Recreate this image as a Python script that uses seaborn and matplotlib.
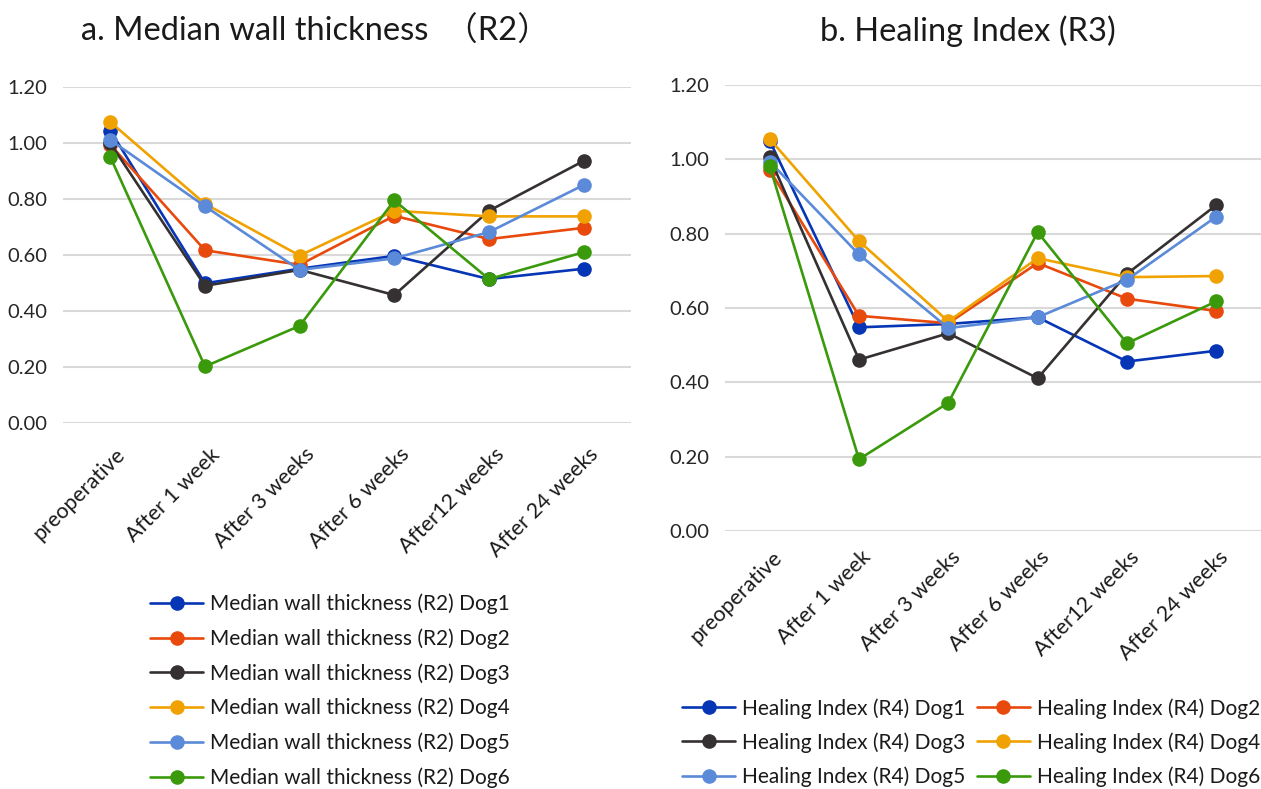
import numpy as np
import pandas as pd
import seaborn as sns
import matplotlib
matplotlib.use("Agg")
import matplotlib.pyplot as plt
from matplotlib.transforms import ScaledTranslation, blended_transform_factory
from matplotlib.lines import Line2D

# ---- data ----
categories = ["preoperative", "After 1 week", "After 3 weeks", "After 6 weeks",
              "After12 weeks", "After 24 weeks"]
dogs = ["Dog1", "Dog2", "Dog3", "Dog4", "Dog5", "Dog6"]

wall_dog1 = [1.045, 0.500, 0.552, 0.598, 0.515, 0.552]
wall_dog2 = [0.995, 0.618, 0.566, 0.741, 0.658, 0.698]
wall_dog3 = [1.000, 0.491, 0.548, 0.458, 0.759, 0.937]
wall_dog4 = [1.076, 0.784, 0.599, 0.759, 0.739, 0.739]
wall_dog5 = [1.012, 0.775, 0.548, 0.589, 0.683, 0.851]
wall_dog6 = [0.951, 0.203, 0.348, 0.796, 0.515, 0.611]

heal_dog1 = [1.050, 0.548, 0.557, 0.575, 0.456, 0.485]
heal_dog2 = [0.971, 0.579, 0.559, 0.721, 0.625, 0.592]
heal_dog3 = [1.005, 0.461, 0.532, 0.411, 0.692, 0.877]
heal_dog4 = [1.055, 0.780, 0.564, 0.734, 0.683, 0.686]
heal_dog5 = [0.994, 0.744, 0.546, 0.575, 0.676, 0.846]
heal_dog6 = [0.982, 0.193, 0.345, 0.804, 0.505, 0.618]

yticks = [0.0, 0.2, 0.4, 0.6, 0.8, 1.0, 1.2]
ytick_labels = ["0.00", "0.20", "0.40", "0.60", "0.80", "1.00", "1.20"]

title_a = "a. Median wall thickness  \uff08R2\uff09"
title_b = "b. Healing Index (R3)"
legend_prefix_a = "Median wall thickness (R2) "
legend_prefix_b = "Healing Index (R4) "

colors = ["#0635B5", "#E8490C", "#353032", "#F0A202", "#5B8AD8", "#3A9A0C"]

# ---- long format ----
def build(series, prefix):
    rows = []
    for dog, vals in zip(dogs, series):
        for i, v in enumerate(vals):
            rows.append({"x": i, "value": v, "series": prefix + dog})
    return pd.DataFrame(rows)

df_a = build([wall_dog1, wall_dog2, wall_dog3, wall_dog4, wall_dog5, wall_dog6], legend_prefix_a)
df_b = build([heal_dog1, heal_dog2, heal_dog3, heal_dog4, heal_dog5, heal_dog6], legend_prefix_b)

sns.set_theme(style="white")
plt.rcParams["font.family"] = ["Lato", "Noto Sans CJK JP", "DejaVu Sans"]
plt.rcParams["text.color"] = "#1a1a1a"

W, H = 1261, 789
fig = plt.figure(figsize=(W / 100, H / 100), dpi=100)

def px_rect(x0, x1, ytop, ybot):
    return [x0 / W, 1 - ybot / H, (x1 - x0) / W, (ybot - ytop) / H]

ax_a = fig.add_axes(px_rect(63, 631, 87.3, 423.3))
ax_b = fig.add_axes(px_rect(725, 1261, 85, 531))

ytick_fs = 14.5
xtick_fs = 15.5

def style(ax, df, pal_names, dx, dy):
    sns.lineplot(data=df, x="x", y="value", hue="series",
                 palette=dict(zip(pal_names, colors)),
                 marker="o", markersize=10.5, markeredgewidth=0,
                 linewidth=1.9, ax=ax, legend=False, zorder=3)
    ax.set_xlim(-0.5, 5.5)
    ax.set_ylim(0, 1.2)
    ax.set_yticks(yticks)
    ax.set_yticklabels(ytick_labels, fontsize=ytick_fs)
    ax.set_xticks(range(len(categories)))
    ax.set_xticklabels([])
    # category labels, rotated 45 degrees, anchored at their right end
    trans = blended_transform_factory(ax.transData, ax.transAxes) + \
        ScaledTranslation(dx / 100, -dy / 100, fig.dpi_scale_trans)
    for i, cat in enumerate(categories):
        ax.text(i, 0, cat, transform=trans, fontsize=xtick_fs, rotation=45,
                ha="right", va="center", rotation_mode="anchor", clip_on=False)
    ax.tick_params(axis="both", length=0)
    ax.tick_params(axis="y", pad=11)
    ax.set_xlabel("")
    ax.set_ylabel("")
    ax.grid(axis="y", color="#D9D9D9", linewidth=1.5, zorder=0)
    ax.grid(axis="x", visible=False)
    for s in ax.spines.values():
        s.set_visible(False)
    for line in ax.lines:
        line.set_clip_on(False)

names_a = [legend_prefix_a + d for d in dogs]
names_b = [legend_prefix_b + d for d in dogs]
style(ax_a, df_a, names_a, 12, 28)
style(ax_b, df_b, names_b, 9, 23)

fig.text(315 / W, 1 - 31 / H, title_a, fontsize=23.5, ha="center", va="center")
fig.text(968 / W, 1 - 31 / H, title_b, fontsize=23.5, ha="center", va="center")

def handles():
    return [Line2D([0], [0], color=c, linewidth=1.9, marker="o", markersize=10.5,
                   markeredgewidth=0) for c in colors]

leg_fs = 15
leg_a = fig.legend(handles(), names_a, loc="upper left",
                   bbox_to_anchor=(150 / W, 1 - 593.5 / H), ncol=1, frameon=False,
                   fontsize=leg_fs, handlelength=2.55, handletextpad=0.34,
                   labelspacing=0.68, borderpad=0, borderaxespad=0)
hb = handles()
# two columns, row-wise order: Dog1 Dog2 / Dog3 Dog4 / Dog5 Dog6
col_order = [0, 2, 4, 1, 3, 5]
leg_b = fig.legend([hb[i] for i in col_order], [names_b[i] for i in col_order],
                   loc="upper left", bbox_to_anchor=(682 / W, 1 - 698 / H), ncol=2,
                   frameon=False, fontsize=leg_fs, handlelength=2.55,
                   handletextpad=0.34, labelspacing=0.65, columnspacing=0.53,
                   borderpad=0, borderaxespad=0)

fig.savefig("out.png", dpi=100)
